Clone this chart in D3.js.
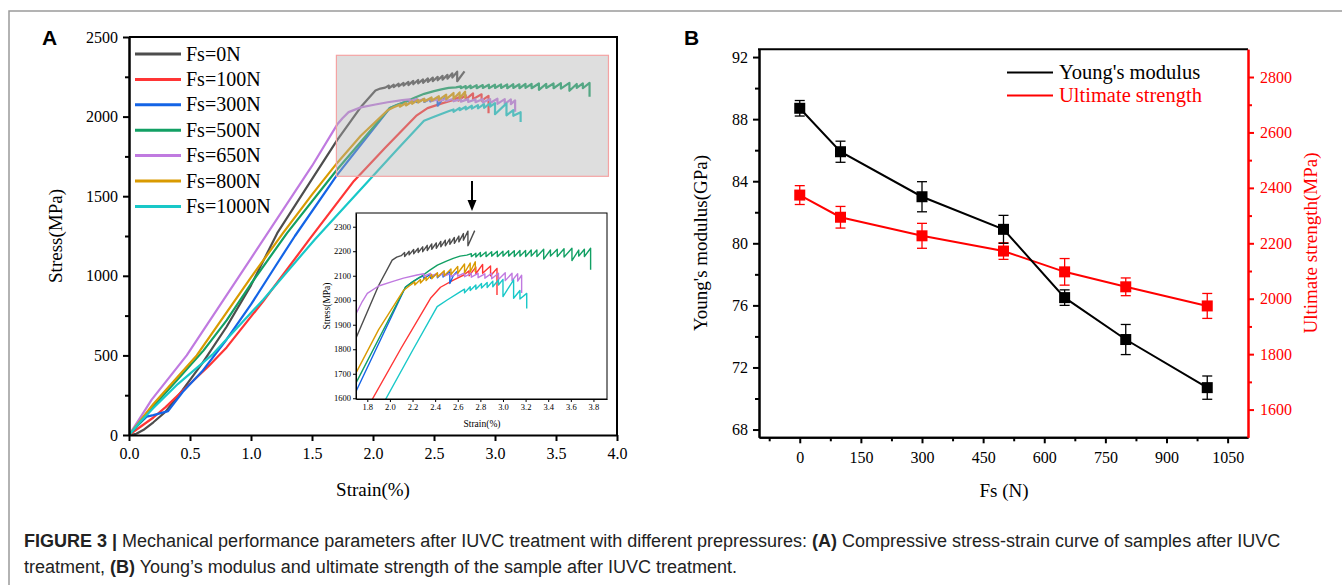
<!DOCTYPE html>
<html>
<head>
<meta charset="utf-8">
<script src="https://cdn.jsdelivr.net/npm/d3@7"></script>
<style>
body { margin: 0; background: #fff; }
svg text { font-family: "Liberation Serif", "Times New Roman", serif; }
</style>
</head>
<body>
<svg id="chart" width="1342" height="585"></svg>
<script>
// ---- panel A data: stress-strain curves [strain %, stress MPa]
var seriesNames = ["Fs=0N", "Fs=100N", "Fs=300N", "Fs=500N", "Fs=650N", "Fs=800N", "Fs=1000N"];
var seriesColors = ["#4d4d4d", "#ff3535", "#1464e6", "#12a064", "#c07ae0", "#d99a00", "#18c8c8"];

var curve0 = [[0,0],[0.06,8],[0.117,31],[0.2,80],[0.3,146],[0.44,283],[0.6,450],[0.8,680],[1.0,940],[1.215,1268],[1.5,1607],[1.706,1852],[1.9,2060],[2.02,2164],[2.06,2176],[2.1,2182],[2.13,2195],[2.13,2178],[2.17,2200],[2.17,2185],[2.21,2207],[2.21,2190],[2.25,2212],[2.25,2195],[2.29,2218],[2.29,2198],[2.33,2224],[2.33,2203],[2.37,2230],[2.37,2208],[2.41,2234],[2.41,2212],[2.45,2240],[2.45,2218],[2.49,2245],[2.49,2222],[2.53,2250],[2.53,2228],[2.57,2256],[2.57,2232],[2.61,2262],[2.61,2238],[2.65,2272],[2.65,2245],[2.69,2282],[2.69,2222],[2.75,2284]];
var curve100 = [[0,0],[0.1,55],[0.2,110],[0.3,175],[0.47,300],[0.65,430],[0.8,550],[1.1,840],[1.48,1230],[1.844,1596],[2.1,1805],[2.359,2008],[2.447,2053],[2.565,2083],[2.653,2103],[2.7,2120],[2.7,2100],[2.76,2135],[2.76,2108],[2.82,2146],[2.82,2110],[2.89,2140],[2.89,2100],[2.947,2130],[2.947,2021]];
var curve300 = [[0,0],[0.07,60],[0.145,115],[0.2,125],[0.32,150],[0.44,270],[0.6,400],[0.8,600],[1.0,820],[1.2,1060],[1.36,1250],[1.706,1634],[2.138,2054],[2.2,2075],[2.26,2092],[2.3,2100],[2.3,2088],[2.36,2106],[2.36,2090],[2.42,2110],[2.42,2092],[2.47,2112],[2.47,2095],[2.53,2116],[2.53,2068],[2.56,2100],[2.594,2117]];
var curve500 = [[0,0],[0.1,85],[0.2,180],[0.4,350],[0.61,530],[0.8,720],[1.0,950],[1.295,1268],[1.706,1668],[2.138,2054],[2.2,2075],[2.27,2095],[2.35,2122],[2.42,2143],[2.5,2160],[2.56,2171],[2.62,2180],[2.68,2184],[2.72,2190],[2.72,2178],[2.76,2192],[2.76,2176],[2.8,2195],[2.8,2178],[2.85,2197],[2.85,2178],[2.9,2198],[2.9,2180],[2.95,2200],[2.95,2178],[3.0,2200],[3.0,2180],[3.05,2202],[3.05,2180],[3.1,2202],[3.1,2178],[3.15,2203],[3.15,2180],[3.2,2203],[3.2,2178],[3.25,2205],[3.25,2180],[3.3,2205],[3.3,2178],[3.36,2208],[3.36,2168],[3.42,2205],[3.42,2180],[3.48,2208],[3.48,2178],[3.54,2210],[3.54,2176],[3.61,2212],[3.61,2162],[3.67,2205],[3.67,2180],[3.72,2208],[3.72,2178],[3.775,2212],[3.775,2124]];
var curve650 = [[0,0],[0.1,118],[0.186,222],[0.473,500],[1.0,1110],[1.5,1690],[1.706,1950],[1.75,1990],[1.8,2028],[1.9,2058],[2.02,2076],[2.12,2090],[2.24,2103],[2.3,2108],[2.3,2098],[2.36,2110],[2.36,2098],[2.42,2110],[2.42,2096],[2.48,2112],[2.48,2098],[2.54,2110],[2.54,2096],[2.6,2112],[2.6,2098],[2.66,2112],[2.66,2096],[2.72,2110],[2.72,2094],[2.78,2110],[2.78,2092],[2.84,2108],[2.84,2090],[2.9,2110],[2.9,2088],[2.96,2110],[2.96,2085],[3.02,2112],[3.02,2080],[3.08,2110],[3.08,2080],[3.13,2108],[3.13,2078],[3.165,2102],[3.165,2030]];
var curve800 = [[0,0],[0.1,98],[0.2,195],[0.555,500],[1.0,990],[1.262,1268],[1.5,1510],[1.706,1709],[1.9,1880],[2.12,2040],[2.17,2058],[2.22,2075],[2.22,2062],[2.27,2085],[2.27,2070],[2.32,2095],[2.32,2080],[2.37,2105],[2.37,2088],[2.42,2112],[2.42,2095],[2.48,2120],[2.48,2100],[2.54,2128],[2.54,2105],[2.6,2138],[2.6,2110],[2.66,2148],[2.66,2112],[2.71,2152],[2.71,2115],[2.755,2157],[2.755,2115]];
var curve1000 = [[0,0],[0.1,90],[0.2,170],[0.4,320],[0.69,510],[1.1,850],[1.525,1230],[1.962,1596],[2.2,1795],[2.418,1974],[2.506,2001],[2.624,2035],[2.66,2045],[2.66,2030],[2.71,2055],[2.71,2040],[2.76,2062],[2.76,2045],[2.81,2068],[2.81,2050],[2.86,2072],[2.86,2052],[2.91,2078],[2.91,2055],[2.96,2083],[2.96,2062],[3.0,2085],[3.0,2015],[3.094,2083],[3.094,2008],[3.15,2040],[3.15,2005],[3.21,2028],[3.21,1966]];
var curves = [curve0, curve100, curve300, curve500, curve650, curve800, curve1000];

// zoom window shown in the inset [strainMin, strainMax, stressMin, stressMax]
var zoomBox = [1.7, 3.93, 1625, 2385];

// ---- panel B data
var fs = [0, 100, 300, 500, 650, 800, 1000];
var modulus = [88.7, 85.9, 83.0, 80.9, 76.5, 73.8, 70.7];
var modulusErr = [0.5, 0.68, 0.97, 0.9, 0.5, 0.97, 0.75];
var strength = [2374, 2294, 2227, 2172, 2097, 2043, 1974];
var strengthErr = [34, 39, 45, 30, 48, 32, 45];

var serif = "'Liberation Serif', 'Times New Roman', serif";
var sans = "'Liberation Sans', Arial, sans-serif";

var svg = d3.select("#chart");

// figure frame
svg.append("path").attr("d", "M9,585 V11 H1342").attr("fill", "none").attr("stroke", "#9a9a9a").attr("stroke-width", 1.5);

function styleAxis(g, color, width, size) {
    g.attr("font-family", serif).attr("font-size", size || 16);
    g.select(".domain").attr("stroke", color).attr("stroke-width", width);
    g.selectAll(".tick line").attr("stroke", color).attr("stroke-width", width);
    g.selectAll(".tick text").attr("fill", color).style("font-family", serif).style("font-size", (size || 16) + "px");
}

// ================= PANEL A =================
var xA = d3.scaleLinear().domain([0, 4]).range([129, 617]);
var yA = d3.scaleLinear().domain([0, 2500]).range([435, 37]);

var lineA = d3.line().x(function (d) { return xA(d[0]) }).y(function (d) { return yA(d[1]) });

svg.append("clipPath").attr("id", "clipA").append("rect")
    .attr("x", 129).attr("y", 37).attr("width", 488).attr("height", 398);

var gA = svg.append("g").attr("clip-path", "url(#clipA)");
curves.forEach(function (c, i) {
    gA.append("path").datum(c).attr("d", lineA)
        .attr("fill", "none").attr("stroke", seriesColors[i]).attr("stroke-width", 2.2)
        .attr("stroke-linejoin", "round");
});

// translucent grey window over the zoomed region
svg.append("rect")
    .attr("x", xA(zoomBox[0])).attr("y", yA(zoomBox[3]))
    .attr("width", xA(zoomBox[1]) - xA(zoomBox[0])).attr("height", yA(zoomBox[2]) - yA(zoomBox[3]))
    .attr("fill", "#b0b0b0").attr("fill-opacity", 0.42)
    .attr("stroke", "#f4a3a3").attr("stroke-width", 1.2);

// arrow down to inset
svg.append("line").attr("x1", 472).attr("x2", 472).attr("y1", 181).attr("y2", 202)
    .attr("stroke", "#000").attr("stroke-width", 2);
svg.append("path").attr("d", "M467.5,200 L476.5,200 L472,211 Z").attr("fill", "#000");

// axes A
var axAx = svg.append("g").attr("transform", "translate(0,435)")
    .call(d3.axisBottom(xA).tickValues([0, 0.5, 1, 1.5, 2, 2.5, 3, 3.5, 4]).tickFormat(d3.format(".1f")).tickSize(6).tickPadding(7).tickSizeOuter(0));
styleAxis(axAx, "#000", 2);

var axAyMinor = svg.append("g").attr("transform", "translate(129,0)")
    .call(d3.axisLeft(yA).tickValues(d3.range(250, 2500, 500)).tickFormat("").tickSize(4).tickSizeOuter(0));
styleAxis(axAyMinor, "#000", 2);
var axAy = svg.append("g").attr("transform", "translate(129,0)")
    .call(d3.axisLeft(yA).tickValues([0, 500, 1000, 1500, 2000, 2500]).tickFormat(d3.format("d")).tickSize(6).tickPadding(5).tickSizeOuter(0));
styleAxis(axAy, "#000", 2);

svg.append("path").attr("d", "M129,37 H617 V435").attr("fill", "none").attr("stroke", "#000").attr("stroke-width", 2);

svg.append("text").attr("transform", "translate(62,236) rotate(-90)").attr("text-anchor", "middle")
    .style("font-family", serif).style("font-size", "19px").text("Stress(MPa)");
svg.append("text").attr("x", 373).attr("y", 496).attr("text-anchor", "middle")
    .style("font-family", serif).style("font-size", "19px").text("Strain(%)");
svg.append("text").attr("x", 42).attr("y", 45)
    .style("font-family", sans).style("font-weight", "bold").style("font-size", "21px").text("A");

// legend A
var legA = svg.append("g");
seriesNames.forEach(function (n, i) {
    var yy = 54 + i * 25.4;
    legA.append("line").attr("x1", 135).attr("x2", 181).attr("y1", yy).attr("y2", yy)
        .attr("stroke", seriesColors[i]).attr("stroke-width", 3);
    legA.append("text").attr("x", 186).attr("y", yy + 6.5).style("font-family", serif).style("font-size", "20px").text(n);
});

// ---- inset
var xI = d3.scaleLinear().domain([1.7, 3.92]).range([356, 607]);
var yI = d3.scaleLinear().domain([1597, 2356]).range([399, 213]);
var lineI = d3.line().x(function (d) { return xI(d[0]) }).y(function (d) { return yI(d[1]) });

svg.append("rect").attr("x", 356).attr("y", 213).attr("width", 251).attr("height", 186).attr("fill", "#fff");
svg.append("clipPath").attr("id", "clipI").append("rect")
    .attr("x", 356).attr("y", 213).attr("width", 251).attr("height", 186);
var gI = svg.append("g").attr("clip-path", "url(#clipI)");
curves.forEach(function (c, i) {
    gI.append("path").datum(c).attr("d", lineI)
        .attr("fill", "none").attr("stroke", seriesColors[i]).attr("stroke-width", 1.4)
        .attr("stroke-linejoin", "round");
});
var axIx = svg.append("g").attr("transform", "translate(0,399)")
    .call(d3.axisBottom(xI).tickValues(d3.range(1.8, 3.81, 0.2)).tickFormat(d3.format(".1f")).tickSize(3).tickPadding(2).tickSizeOuter(0));
styleAxis(axIx, "#000", 1, 8.5);
var axIy = svg.append("g").attr("transform", "translate(356,0)")
    .call(d3.axisLeft(yI).tickValues(d3.range(1600, 2301, 100)).tickFormat(d3.format("d")).tickSize(3).tickPadding(2).tickSizeOuter(0));
styleAxis(axIy, "#000", 1, 8.5);
svg.append("rect").attr("x", 356).attr("y", 213).attr("width", 251).attr("height", 186)
    .attr("fill", "none").attr("stroke", "#000").attr("stroke-width", 1);
svg.append("text").attr("x", 482).attr("y", 427).attr("text-anchor", "middle").style("font-family", serif).style("font-size", "9.5px").text("Strain(%)");
svg.append("text").attr("transform", "translate(330,306) rotate(-90)").attr("text-anchor", "middle").style("font-family", serif).style("font-size", "9.5px").text("Stress(MPa)");

// ================= PANEL B =================
var xB = d3.scaleLinear().domain([-100, 1100]).range([759, 1248]);
var yL = d3.scaleLinear().domain([67.5, 92.5]).range([437.3, 49.3]);
var yR = d3.scaleLinear().domain([1500, 2900]).range([437.3, 49.3]);

var axBxMinor = svg.append("g").attr("transform", "translate(0,437.3)")
    .call(d3.axisBottom(xB).tickValues(d3.range(-75, 1100, 150)).tickFormat("").tickSize(4).tickSizeOuter(0));
styleAxis(axBxMinor, "#000", 2);
var axBx = svg.append("g").attr("transform", "translate(0,437.3)")
    .call(d3.axisBottom(xB).tickValues(d3.range(0, 1051, 150)).tickFormat(d3.format("d")).tickSize(6).tickPadding(8).tickSizeOuter(0));
styleAxis(axBx, "#000", 2);

var axBlMinor = svg.append("g").attr("transform", "translate(759,0)")
    .call(d3.axisLeft(yL).tickValues(d3.range(70, 92, 4)).tickFormat("").tickSize(4).tickSizeOuter(0));
styleAxis(axBlMinor, "#000", 2);
var axBl = svg.append("g").attr("transform", "translate(759,0)")
    .call(d3.axisLeft(yL).tickValues(d3.range(68, 93, 4)).tickFormat(d3.format("d")).tickSize(6).tickPadding(5).tickSizeOuter(0));
styleAxis(axBl, "#000", 2);

svg.append("line").attr("x1", 758).attr("x2", 1248).attr("y1", 49.3).attr("y2", 49.3)
    .attr("stroke", "#000").attr("stroke-width", 2);

var axBrMinor = svg.append("g").attr("transform", "translate(1248,0)")
    .call(d3.axisRight(yR).tickValues(d3.range(1700, 2900, 200)).tickFormat("").tickSize(4).tickSizeOuter(0));
styleAxis(axBrMinor, "#ff0000", 2);
var axBr = svg.append("g").attr("transform", "translate(1248,0)")
    .call(d3.axisRight(yR).tickValues(d3.range(1600, 2801, 200)).tickFormat(d3.format("d")).tickSize(6).tickPadding(6).tickSizeOuter(0));
styleAxis(axBr, "#ff0000", 2);

function drawSeries(vals, errs, yScale, color) {
    var pts = fs.map(function (f, i) { return [f, vals[i], errs[i]] });
    svg.append("path").datum(pts)
        .attr("d", d3.line().x(function (d) { return xB(d[0]) }).y(function (d) { return yScale(d[1]) }))
        .attr("fill", "none").attr("stroke", color).attr("stroke-width", 2);
    var g = svg.append("g");
    pts.forEach(function (d) {
        var cx = xB(d[0]), top = yScale(d[1] + d[2]), bot = yScale(d[1] - d[2]);
        g.append("line").attr("x1", cx).attr("x2", cx).attr("y1", top).attr("y2", bot).attr("stroke", color).attr("stroke-width", 1.3);
        g.append("line").attr("x1", cx - 5).attr("x2", cx + 5).attr("y1", top).attr("y2", top).attr("stroke", color).attr("stroke-width", 1.3);
        g.append("line").attr("x1", cx - 5).attr("x2", cx + 5).attr("y1", bot).attr("y2", bot).attr("stroke", color).attr("stroke-width", 1.3);
        g.append("rect").attr("x", cx - 5.5).attr("y", yScale(d[1]) - 5.5).attr("width", 11).attr("height", 11).attr("fill", color);
    });
}
drawSeries(strength, strengthErr, yR, "#ff0000");
drawSeries(modulus, modulusErr, yL, "#000000");

svg.append("text").attr("transform", "translate(707,243) rotate(-90)").attr("text-anchor", "middle")
    .style("font-family", serif).style("font-size", "19px").text("Young's modulus(GPa)");
svg.append("text").attr("transform", "translate(1317,243) rotate(-90)").attr("text-anchor", "middle")
    .attr("fill", "#ff0000").style("font-family", serif).style("font-size", "19px").text("Ultimate strength(MPa)");
svg.append("text").attr("x", 1004).attr("y", 497).attr("text-anchor", "middle")
    .style("font-family", serif).style("font-size", "19px").text("Fs (N)");
svg.append("text").attr("x", 684).attr("y", 45)
    .style("font-family", sans).style("font-weight", "bold").style("font-size", "21px").text("B");

// legend B
var legB = [["Young's modulus", "#000000"], ["Ultimate strength", "#ff0000"]];
legB.forEach(function (l, i) {
    var yy = 72.5 + i * 23;
    svg.append("line").attr("x1", 1007).attr("x2", 1053).attr("y1", yy).attr("y2", yy).attr("stroke", l[1]).attr("stroke-width", 2);
    svg.append("text").attr("x", 1059).attr("y", yy + 6.5).attr("fill", l[1]).style("font-family", serif).style("font-size", "20.5px").text(l[0]);
});

// caption
var cap1 = svg.append("text").attr("x", 24).attr("y", 547).attr("fill", "#222")
    .style("font-family", sans).style("font-size", "18px");
cap1.append("tspan").style("font-weight", "bold").text("FIGURE 3 | ");
cap1.append("tspan").text("Mechanical performance parameters after IUVC treatment with different prepressures: ");
cap1.append("tspan").style("font-weight", "bold").text("(A)");
cap1.append("tspan").text(" Compressive stress-strain curve of samples after IUVC");
var cap2 = svg.append("text").attr("x", 24).attr("y", 573).attr("fill", "#222")
    .style("font-family", sans).style("font-size", "18px");
cap2.append("tspan").text("treatment, ");
cap2.append("tspan").style("font-weight", "bold").text("(B)");
cap2.append("tspan").text(" Young\u2019s modulus and ultimate strength of the sample after IUVC treatment.");
</script>
</body>
</html>
